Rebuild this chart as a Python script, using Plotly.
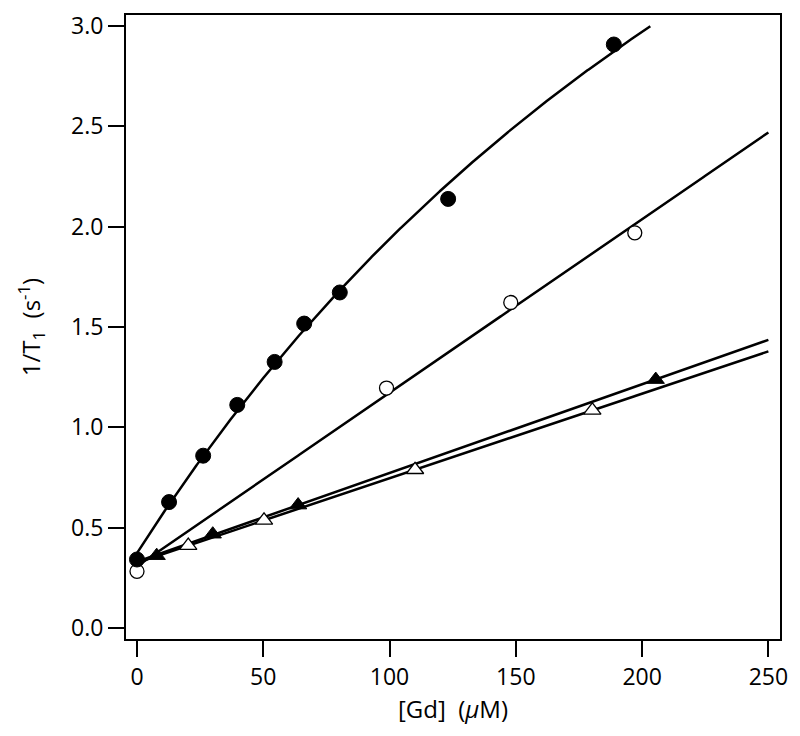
import numpy as np
import plotly.graph_objects as go

# Data
gd_filled_circle = [0, 12.7, 26.2, 39.7, 54.5, 66.2, 80.3, 123.2, 188.8]
r1_filled_circle = [0.342, 0.628, 0.859, 1.112, 1.326, 1.517, 1.672, 2.138, 2.907]

gd_open_circle = [0, 98.8, 148.0, 197.1]
r1_open_circle = [0.283, 1.196, 1.622, 1.969]

gd_filled_tri = [7.8, 30.0, 63.8, 205.4]
r1_filled_tri = [0.361, 0.468, 0.613, 1.238]

gd_open_tri = [20.3, 50.3, 110.1, 180.3]
r1_open_tri = [0.411, 0.537, 0.789, 1.085]

x_ticks = [0, 50, 100, 150, 200, 250]
y_ticks = [0.0, 0.5, 1.0, 1.5, 2.0, 2.5, 3.0]
y_tick_text = ["0.0", "0.5", "1.0", "1.5", "2.0", "2.5", "3.0"]

FONT = "Open Sans"

fig = go.Figure()

xs = np.linspace(0, 250, 1001)

# saturating fit y = a + b*x/(1+c*x), least squares (grid over c)
xf = np.array(gd_filled_circle)
yf = np.array(r1_filled_circle)
best = None
for c in np.linspace(0, 0.02, 2001):
    g = xf / (1 + c * xf)
    A = np.vstack([np.ones_like(xf), g]).T
    coef, *_ = np.linalg.lstsq(A, yf, rcond=None)
    res = np.sum((A @ coef - yf) ** 2)
    if best is None or res < best[0]:
        best = (res, c, coef)
_, cb, (ab, bb) = best
yc = ab + bb * xs / (1 + cb * xs)
mask = yc <= 3.0
fig.add_trace(go.Scatter(x=xs[mask], y=yc[mask], mode="lines",
                         line=dict(color="black", width=2.5), hoverinfo="skip"))

for gx, gy in [(gd_open_circle, r1_open_circle), (gd_filled_tri, r1_filled_tri), (gd_open_tri, r1_open_tri)]:
    c = np.polyfit(gx, gy, 1)
    fig.add_trace(go.Scatter(x=xs, y=np.polyval(c, xs), mode="lines",
                             line=dict(color="black", width=2.5), hoverinfo="skip"))

# markers
fig.add_trace(go.Scatter(x=gd_open_tri, y=r1_open_tri, mode="markers",
                         marker=dict(symbol="triangle-up", size=15, color="white",
                                     line=dict(color="black", width=1.3))))
fig.add_trace(go.Scatter(x=gd_filled_tri, y=r1_filled_tri, mode="markers",
                         marker=dict(symbol="triangle-up", size=15, color="black",
                                     line=dict(color="black", width=1))))
fig.add_trace(go.Scatter(x=gd_open_circle, y=r1_open_circle, mode="markers",
                         marker=dict(symbol="circle", size=14, color="white",
                                     line=dict(color="black", width=1.3))))
fig.add_trace(go.Scatter(x=gd_filled_circle, y=r1_filled_circle, mode="markers",
                         marker=dict(symbol="circle", size=15, color="black",
                                     line=dict(color="black", width=1))))

axis_common = dict(showline=True, linecolor="black", linewidth=2, mirror=True,
                   ticks="outside", ticklen=16, tickwidth=2, tickcolor="black",
                   showgrid=False, zeroline=False, ticklabeloverflow="allow",
                   tickfont=dict(family=FONT, size=23, color="black"))

fig.update_layout(
    width=792, height=728,
    margin=dict(l=118, r=20, t=1, b=97),
    paper_bgcolor="white", plot_bgcolor="white",
    showlegend=False,
    font=dict(family=FONT, color="black"),
    xaxis=dict(range=[-4.35, 254.6], tickvals=x_ticks,
               title=dict(text="[Gd]  (<i>μ</i>M)", font=dict(family=FONT, size=24), standoff=6),
               **axis_common),
    yaxis=dict(range=[-0.054, 3.054], tickvals=y_ticks, ticktext=y_tick_text,
               title=dict(text="1/T<sub>1</sub>  (s<sup>-1</sup>)", font=dict(family=FONT, size=24), standoff=24),
               **axis_common),
)

fig.write_html("out.html")
